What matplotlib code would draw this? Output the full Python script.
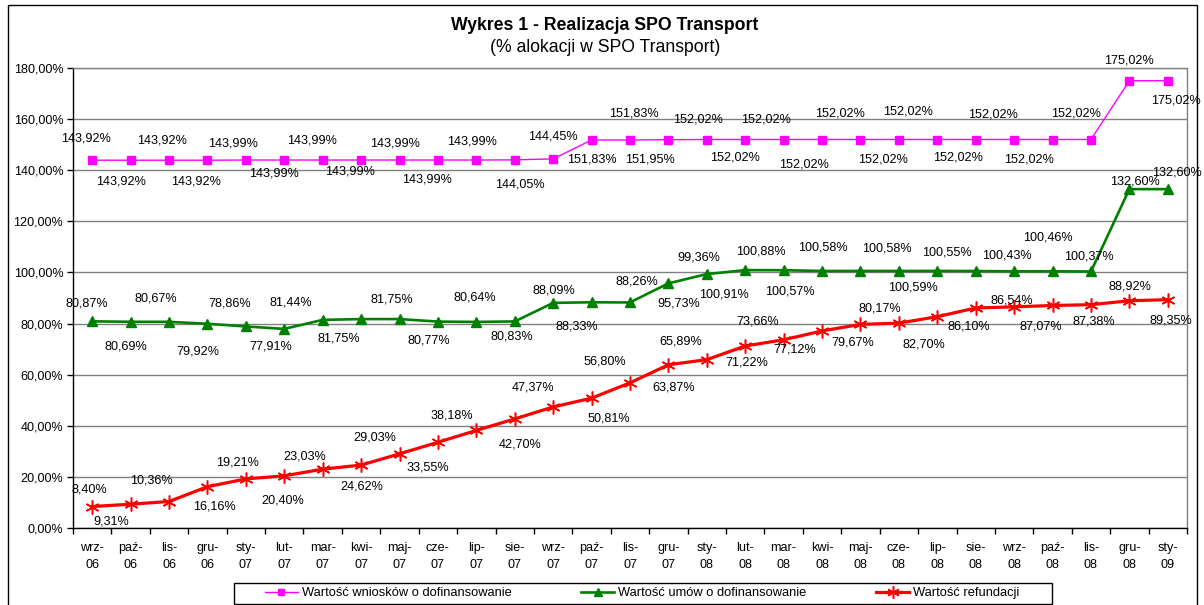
import matplotlib
matplotlib.use("Agg")
import matplotlib.pyplot as plt
from matplotlib.patches import Rectangle
from matplotlib.ticker import FixedLocator, FuncFormatter, MultipleLocator

plt.rcParams['font.family'] = ['Liberation Sans', 'DejaVu Sans']

# ---------------- data ----------------
months = ["wrz-\n06", "paź-\n06", "lis-\n06", "gru-\n06", "sty-\n07", "lut-\n07", "mar-\n07",
          "kwi-\n07", "maj-\n07", "cze-\n07", "lip-\n07", "sie-\n07", "wrz-\n07", "paź-\n07",
          "lis-\n07", "gru-\n07", "sty-\n08", "lut-\n08", "mar-\n08", "kwi-\n08", "maj-\n08",
          "cze-\n08", "lip-\n08", "sie-\n08", "wrz-\n08", "paź-\n08", "lis-\n08", "gru-\n08",
          "sty-\n09"]

wnioski = [143.92, 143.92, 143.92, 143.92, 143.99, 143.99, 143.99, 143.99, 143.99, 143.99,
           143.99, 144.05, 144.45, 151.83, 151.83, 151.95, 152.02, 152.02, 152.02, 152.02,
           152.02, 152.02, 152.02, 152.02, 152.02, 152.02, 152.02, 175.02, 175.02]

umowy = [80.87, 80.69, 80.67, 79.92, 78.86, 77.91, 81.44, 81.75, 81.75, 80.77,
         80.64, 80.83, 88.09, 88.33, 88.26, 95.73, 99.36, 100.91, 100.88, 100.57,
         100.58, 100.58, 100.59, 100.55, 100.43, 100.46, 100.37, 132.60, 132.60]

refundacje = [8.40, 9.31, 10.36, 16.16, 19.21, 20.40, 23.03, 24.62, 29.03, 33.55,
              38.18, 42.70, 47.37, 50.81, 56.80, 63.87, 65.89, 71.22, 73.66, 77.12,
              79.67, 80.17, 82.70, 86.10, 86.54, 87.07, 87.38, 88.92, 89.35]

series_names = ["Wartość wniosków o dofinansowanie",
                "Wartość umów o dofinansowanie",
                "Wartość refundacji"]

title = "Wykres 1 - Realizacja SPO Transport"
subtitle = "(% alokacji w SPO Transport)"

# label offsets (pixels, image coordinates: +dx right, +dy down)
off_wnioski = [(-6, -22), (-10, 21), (-7, -20), (-11, 21), (-13, -17), (-10, 13), (-11, -20),
               (-11, 11), (-5, -17), (-11, 19), (-4, -19), (5, 25), (0, -22), (0, 20),
               (4, -26), (-18, 20), (-9, -20), (-10, 18), (-18, -20), (-18, 25), (-20, -26),
               (-16, 20), (-29, -28), (-18, 18), (-21, -25), (-24, 20), (-15, -26), (0, -20),
               (8, 20)]
off_umowy = [(-5, -18), (-5, 25), (-13, -23), (-10, 28), (-16, -23), (-14, 18), (-32, -17),
             (-22, 19), (-8, -20), (-9, 19), (-2, -24), (-3, 15), (1, -12), (-15, 24),
             (7, -21), (10, 20), (-8, -17), (-21, 24), (-23, -19), (-32, 21), (-38, -23),
             (-12, -22), (-24, 17), (-29, -19), (-7, -16), (-5, -34), (-2, -15), (6, -8),
             (9, -17)]
off_refundacje = [(-3, -17), (-19, 17), (-18, -21), (7, 20), (-8, -16), (-2, 25), (-18, -13),
                  (1, 21), (-25, -16), (-10, 25), (-25, -15), (5, 26), (-20, -19), (17, 20),
                  (-25, -21), (5, 23), (-26, -18), (2, 17), (-26, -18), (-27, 19), (-8, 18),
                  (-19, -15), (-13, 28), (-7, 19), (-2, -6), (-12, 21), (3, 17), (1, -14),
                  (3, 21)]

# ---------------- figure ----------------
W, H = 1204, 605
fig = plt.figure(figsize=(W / 100, H / 100), dpi=100)
ax = fig.add_axes([73 / W, 1 - 528 / H, (1187 - 73) / W, (528 - 68) / H])

x = list(range(len(months)))
FS = 9.1

def fmt(v):
    return f"{v:.2f}%".replace(".", ",")

styles = [
    dict(color="#FF00FF", lw=1.0, marker="s", ms=5.2, mec="#FF00FF", mfc="#FF00FF"),
    dict(color="#008000", lw=1.9, marker="^", ms=6.5, mec="#008000", mfc="#008000"),
    dict(color="#FF0000", lw=2.3, marker=(6, 2, 0), ms=10, mec="#FF0000", mew=1.1),
]
data = [wnioski, umowy, refundacje]
offs = [off_wnioski, off_umowy, off_refundacje]

handles = []
for vals, st, name in zip(data, styles, series_names):
    h, = ax.plot(x, vals, label=name, zorder=3, **st)
    handles.append(h)

for vals, off in zip(data, offs):
    for xi, v, (dx, dy) in zip(x, vals, off):
        ax.annotate(fmt(v), (xi, v), xytext=(dx, -dy), textcoords="offset pixels",
                    ha="center", va="center", fontsize=FS, color="black", zorder=4)

ax.set_xlim(-0.5, len(months) - 0.5)
ax.set_ylim(0, 180)
ax.yaxis.set_major_locator(MultipleLocator(20))
ax.yaxis.set_major_formatter(FuncFormatter(lambda v, p: fmt(v)))
ax.grid(axis="y", color="#808080", lw=1.0, zorder=0)
ax.set_axisbelow(True)

ax.xaxis.set_major_locator(FixedLocator([i - 0.5 for i in range(len(months) + 1)]))
ax.xaxis.set_major_formatter(FuncFormatter(lambda v, p: ""))
ax.xaxis.set_minor_locator(FixedLocator(x))
ax.set_xticklabels(months, minor=True)
ax.tick_params(axis="x", which="minor", length=0, pad=10, labelsize=FS)
ax.tick_params(axis="x", which="major", length=4, width=1, color="black", direction="out")
for lab in ax.get_xticklabels(minor=True):
    lab.set_linespacing(1.55)
ax.tick_params(axis="y", length=4, width=1, direction="out", pad=3, labelsize=FS)

for s in ["left", "bottom"]:
    ax.spines[s].set_color("black")
    ax.spines[s].set_linewidth(1.0)
for s in ["top", "right"]:
    ax.spines[s].set_color("#808080")
    ax.spines[s].set_linewidth(1.0)

# titles
fig.text(605 / W, 1 - 26 / H, title, ha="center", va="center", fontsize=12.7, fontweight="bold")
fig.text(605 / W, 1 - 47 / H, subtitle, ha="center", va="center", fontsize=12.7)

# legend (entries) + separate frame box
leg = fig.legend(handles=handles, loc="center left", bbox_to_anchor=(265 / W, 1 - 593 / H),
                 ncol=3, fontsize=9.3, frameon=False,
                 handlelength=2.55, handletextpad=0.3, columnspacing=5.4, borderpad=0,
                 borderaxespad=0)
for lh in leg.legend_handles:
    lh.set_markersize(lh.get_markersize() * 0.9)
fig.patches.append(Rectangle((234 / W, 1 - 604 / H), (1052 - 234) / W, (604 - 583) / H,
                             transform=fig.transFigure, fill=False, edgecolor="black",
                             lw=1.0, zorder=1))

# outer chart frame
fig.patches.append(Rectangle((8 / W, -0.01), (1197 - 8) / W, 1 - 5 / H + 0.01,
                             transform=fig.transFigure, fill=False, edgecolor="black",
                             lw=1.0, zorder=0))

fig.savefig("out.png", dpi=100)
